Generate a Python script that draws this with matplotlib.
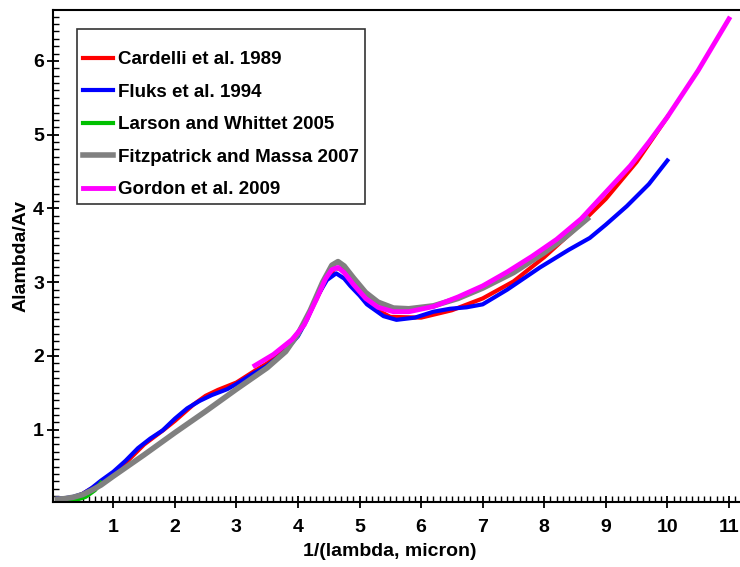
import matplotlib
matplotlib.use("Agg")
import matplotlib.pyplot as plt
from matplotlib.ticker import MultipleLocator

plt.rcParams['font.family'] = ['Liberation Sans', 'DejaVu Sans']
plt.rcParams['font.weight'] = 'bold'

# Cardelli et al. 1989
ccm_x = [0.3, 0.5, 0.8, 1.0, 1.2, 1.5, 1.82, 2.0, 2.3, 2.5, 2.7, 3.0, 3.3, 3.5, 3.8,
         4.0, 4.15, 4.3, 4.45, 4.6, 4.7, 4.85, 5.0, 5.2, 5.5, 6.0, 6.5, 7.0, 7.5,
         8.0, 8.5, 9.0, 9.5, 10.0]
ccm_y = [0.06, 0.13, 0.28, 0.40, 0.55, 0.80, 1.0, 1.12, 1.34, 1.46, 1.54, 1.64, 1.80,
         1.90, 2.11, 2.31, 2.52, 2.77, 3.03, 3.19, 3.18, 3.03, 2.84, 2.66, 2.53, 2.52,
         2.62, 2.78, 3.01, 3.34, 3.72, 4.13, 4.63, 5.24]

# Fluks et al. 1994
fluks_x = [0.1, 0.2, 0.35, 0.5, 0.65, 0.8, 1.0, 1.2, 1.4, 1.6, 1.8, 2.0, 2.2, 2.4, 2.6,
           2.85, 3.0, 3.25, 3.5, 3.75, 4.0, 4.15, 4.3, 4.47, 4.62, 4.75, 4.85, 5.0,
           5.12, 5.39, 5.6, 5.9, 6.2, 6.47, 6.74, 7.0, 7.4, 7.93, 8.4, 8.74, 9.0,
           9.34, 9.7, 10.0]
fluks_y = [0.07, 0.07, 0.09, 0.13, 0.21, 0.31, 0.43, 0.58, 0.75, 0.88, 0.99, 1.15,
           1.29, 1.39, 1.47, 1.55, 1.62, 1.75, 1.87, 2.03, 2.27, 2.50, 2.79, 3.03,
           3.12, 3.05, 2.95, 2.82, 2.70, 2.54, 2.49, 2.52, 2.60, 2.64, 2.66, 2.70,
           2.90, 3.20, 3.44, 3.60, 3.78, 4.03, 4.33, 4.65]

# Larson and Whittet 2005
lw_x = [0.25, 0.4, 0.55, 0.7, 0.8]
lw_y = [0.03, 0.05, 0.09, 0.18, 0.28]

# Fitzpatrick and Massa 2007
fm_x = [0.09, 0.2, 0.35, 0.5, 0.65, 0.8, 1.0, 1.5, 2.0, 2.5, 3.0, 3.5, 3.8, 4.0, 4.2,
        4.4, 4.55, 4.65, 4.75, 4.9, 5.1, 5.3, 5.55, 5.8, 6.2, 6.6, 7.0, 7.5, 8.0,
        8.3, 8.7]
fm_y = [0.06, 0.065, 0.085, 0.12, 0.18, 0.25, 0.37, 0.66, 0.96, 1.25, 1.55, 1.84,
        2.06, 2.30, 2.62, 3.00, 3.23, 3.28, 3.22, 3.06, 2.86, 2.73, 2.65, 2.64, 2.68,
        2.78, 2.92, 3.13, 3.40, 3.58, 3.86]

# Gordon et al. 2009
gor_x = [3.3, 3.6, 3.9, 4.1, 4.3, 4.45, 4.55, 4.65, 4.75, 4.9, 5.1, 5.3, 5.55, 5.8,
         6.2, 6.6, 7.0, 7.4, 7.8, 8.2, 8.6, 9.0, 9.4, 9.7, 10.0, 10.5, 11.0]
gor_y = [1.87, 2.02, 2.22, 2.42, 2.77, 3.05, 3.17, 3.20, 3.13, 2.97, 2.78, 2.66, 2.60,
         2.60, 2.67, 2.80, 2.95, 3.14, 3.35, 3.58, 3.86, 4.22, 4.58, 4.90, 5.24, 5.87,
         6.57]

fig = plt.figure(figsize=(7.4, 5.67), dpi=100)
ax = fig.add_axes([0.0716, 0.1146, 0.9284, 0.8677])

ax.plot(ccm_x, ccm_y, color='#ff0000', lw=3, label='Cardelli et al. 1989')
ax.plot(fluks_x, fluks_y, color='#0000ff', lw=3, label='Fluks et al. 1994')
ax.plot(lw_x, lw_y, color='#00c000', lw=3, label='Larson and Whittet 2005')
ax.plot(fm_x, fm_y, color='#808080', lw=4, label='Fitzpatrick and Massa 2007')
ax.plot(gor_x, gor_y, color='#ff00ff', lw=3.5, label='Gordon et al. 2009')

ax.set_xlim(0.02, 11.18)
ax.set_ylim(0.02, 6.69)
ax.set_xticks(range(1, 12))
ax.set_yticks(range(1, 7))
ax.xaxis.set_minor_locator(MultipleLocator(0.1))
ax.yaxis.set_minor_locator(MultipleLocator(0.1))
ax.tick_params(which='major', direction='inout', length=9, width=1.3, labelsize=14)
ax.tick_params(axis='x', which='major', pad=8)
ax.tick_params(axis='y', which='major', pad=2)
ax.tick_params(which='minor', direction='in', length=4, width=1)
ax.spines['right'].set_visible(False)
for s in ['left', 'bottom', 'top']:
    ax.spines[s].set_linewidth(1.5)

ax.set_xlabel('1/(lambda, micron)', fontsize=14, fontweight='bold')
ax.set_ylabel('Alambda/Av', fontsize=14, fontweight='bold')
ax.xaxis.set_label_coords(0.49, -0.083)
ax.yaxis.set_label_coords(-0.034, 0.5)

# tiny blank title pushes the entries down, as in the original box
leg = ax.legend(loc='upper left', bbox_to_anchor=(0.035, 0.961), borderaxespad=0,
                fancybox=False, frameon=True, edgecolor='black', fontsize=13.5,
                handlelength=1.6, handletextpad=0.3, labelspacing=0.82,
                borderpad=0.3, title=' ', title_fontsize=0.1)
leg.get_frame().set_linewidth(1.2)

fig.savefig('out.png', dpi=100)
